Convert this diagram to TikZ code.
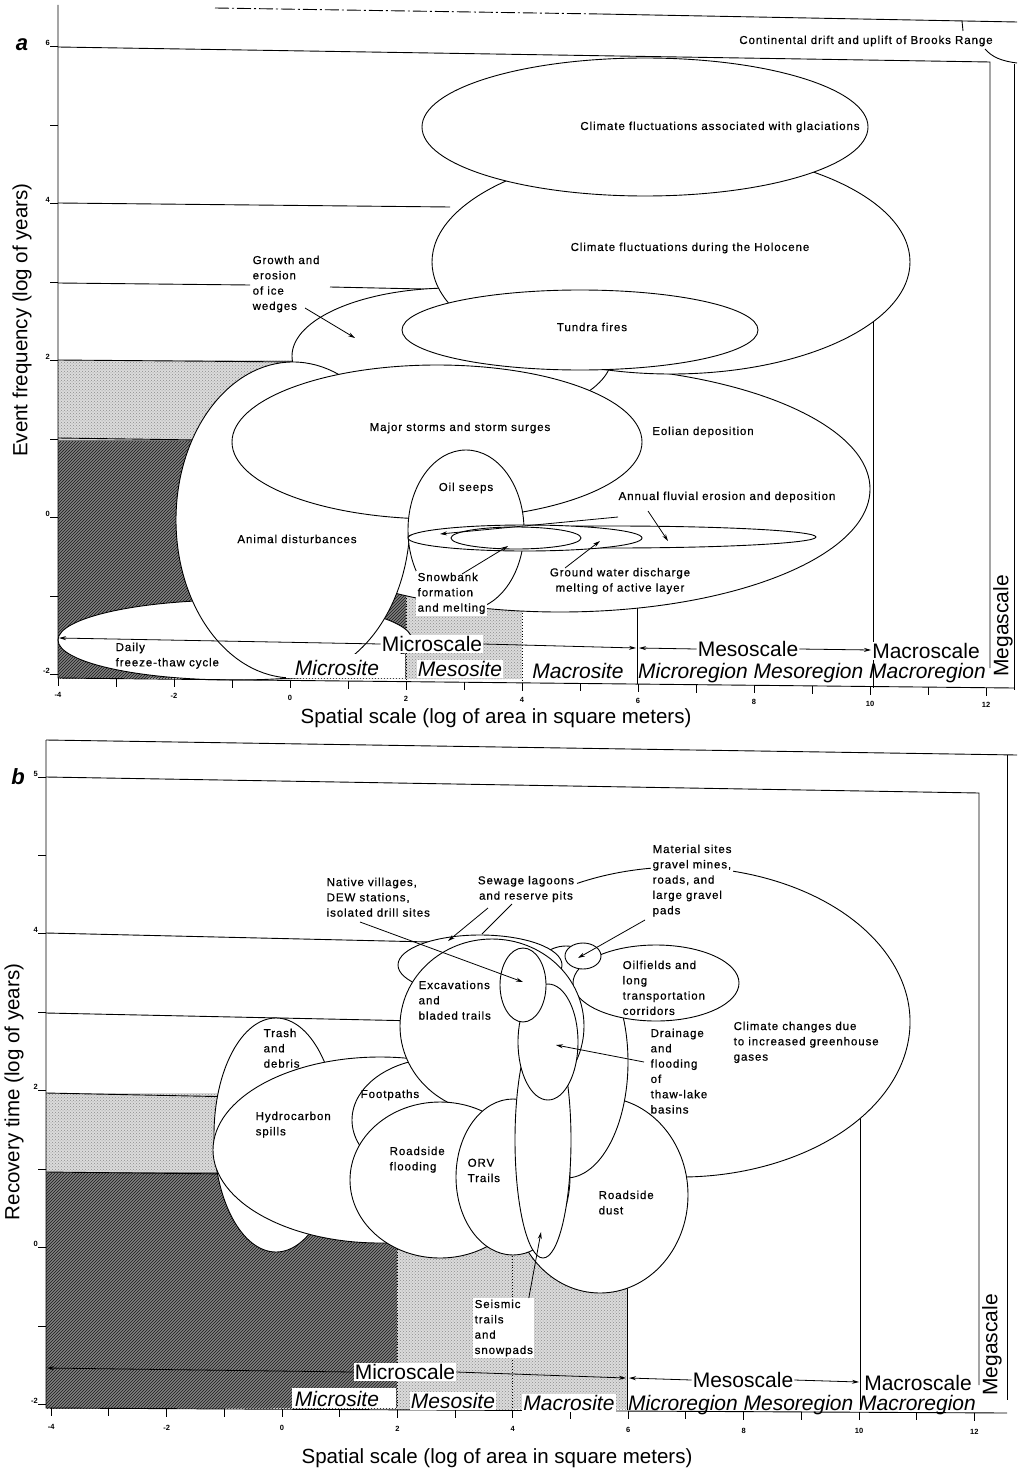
\documentclass[tikz,border=0pt]{standalone}
\usepackage{fontspec}
\setmainfont{Liberation Sans}
\newfontfamily\lspfam[LetterSpace=8,FakeBold=0.6]{Liberation Sans}
\usetikzlibrary{patterns,arrows.meta}
\newcommand\lbfnt{\lspfam\fontsize{11.5}{15.3}\selectfont}
\newcommand\bgfnt{\fontsize{21}{23}\selectfont}
\newcommand\stfnt{\fontsize{21}{23}\selectfont\itshape}
\newcommand\tkfnt{\fontsize{7.5}{8}\selectfont\bfseries}
\newcommand\axfnt{\fontsize{20.5}{22}\selectfont}
\begin{document}
\begin{tikzpicture}[x=1pt,y=-1pt,
  ell/.style={draw,line width=0.9pt,fill=white},
  rl/.style={line width=0.9pt},
  lab/.style={font=\lbfnt,inner sep=0.5pt,align=left},
  labw/.style={lab,fill=white,inner sep=1.5pt},
  scl/.style={font=\bgfnt,inner sep=1pt,fill=white},
  site/.style={font=\stfnt,inner sep=1pt,fill=white},
  tk/.style={font=\tkfnt,inner sep=0pt},
  axl/.style={font=\axfnt,inner sep=0pt},
  plab/.style={font=\fontsize{22}{24}\selectfont\itshape\bfseries,inner sep=0pt},
  arr/.style={-{Stealth[length=7pt,width=4pt]},line width=0.8pt},
  darkfill/.style={fill=black!50,postaction={pattern=north east lines,pattern color=black!90}},
  lightfill/.style={fill=black!14,postaction={pattern=crosshatch dots,pattern color=black!45}},
]
\path[use as bounding box,fill=white] (0,0) rectangle (1017,1474);

%%%%%%%%%%%%%%%%%%%%%%%% PANEL A %%%%%%%%%%%%%%%%%%%%%%%%
% shading
\path[darkfill] (58,440) rectangle (406,678);
\path[lightfill] (58,360) rectangle (300,440);
\path[lightfill] (406,560) rectangle (522,679);
% range lines
\draw[rl,dash pattern=on 14pt off 3pt on 2pt off 3pt] (215,8) -- (600,14);
\draw[rl] (600,14) -- (1017,22);
\draw[rl] (962,21) -- (963,31);
\draw[rl] (985,49) .. controls (992,57) and (1001,61) .. (1017,63);
\draw[rl] (58,47) -- (990,62) -- (990,668);
\draw[rl] (1014,64) -- (1014,690);
\draw[rl] (58,203) -- (450,207);
\draw[rl] (873,300) -- (873,688);
\draw[rl] (58,283) -- (250,285);
\draw[rl] (330,287) -- (470,290);
\draw[rl] (58,360) -- (300,362);
\draw[rl] (58,438) -- (200,440);
\draw[rl] (637,590) -- (637,684);
\draw[line width=0.9pt,dotted] (406,560) -- (406,680);
\draw[line width=0.9pt,dotted] (522,590) -- (522,682);
% ellipses (back to front)
\draw[ell] (235,640) ellipse[x radius=177,y radius=40];
\draw[ell] (560,489) ellipse[x radius=310,y radius=123];
\draw[ell] (452,356) ellipse[x radius=160,y radius=68];
\draw[ell] (293,520) ellipse[x radius=117,y radius=158];
\draw[ell] (671,262) ellipse[x radius=239,y radius=112];
\draw[ell] (580,330) ellipse[x radius=178,y radius=40];
\draw[ell] (645,127) ellipse[x radius=223,y radius=69];
\draw[ell] (437,442) ellipse[x radius=205,y radius=77];
\draw[ell] (466,530) ellipse[x radius=58,y radius=80];
\draw[ell] (612,537) ellipse[x radius=204,y radius=11];
\draw[ell] (525,538) ellipse[x radius=117,y radius=13];
\draw[ell] (516,538) ellipse[x radius=65,y radius=11];
\fill[white] (286,654) rectangle (405,678);
% axes
\draw[rl] (58,5) -- (58,678) -- (1014,688);
\foreach \yy in {46,125,203,282,360,439,517,596,674} \draw[rl] (50,\yy) -- (58,\yy);
\foreach \v/\yy [count=\i] in {6/46,4/203,2/360,0/517,-2/674}
  \node[tk,anchor=east] (yta\i) at (50,\yy-3) {\v};
\foreach \v in {-4,...,12} {
  \pgfmathsetmacro\xx{58+58*(\v+4)}
  \pgfmathsetmacro\ay{678+(\xx-58)*0.0105}
  \draw[rl] (\xx,\ay) -- (\xx,\ay+8);
}
\foreach \v [count=\i] in {-4,-2,...,12} {
  \pgfmathsetmacro\xx{58+58*(\v+4)}
  \pgfmathsetmacro\ay{678+(\xx-58)*0.0105}
  \node[tk] (xta\i) at (\xx,\ay+17) {\v};
}
% labels
\node[plab] (pa) at (22,45) {a};
\node[lab] (cont) at (866,41) {Continental drift and uplift of Brooks Range};
\node[lab] (glac) at (720,127) {Climate fluctuations associated with glaciations};
\node[lab] (holo) at (690,248) {Climate fluctuations during the Holocene};
\node[lab] (tund) at (592,327) {Tundra fires};
\node[lab,anchor=north west] (grow) at (252,255) {Growth and\\erosion\\of ice\\wedges};
\node[lab] (storm) at (460,428) {Major storms and storm surges};
\node[lab] (eol) at (703,432) {Eolian deposition};
\node[lab] (oil) at (466,488) {Oil seeps};
\node[lab] (ann) at (727,497) {Annual fluvial erosion and deposition};
\node[lab] (anim) at (297,539) {Animal disturbances};
\node[labw,anchor=north west] (snow) at (416,571) {Snowbank\\formation\\and melting};
\node[lab,align=center] (gw) at (620,581) {Ground water discharge\\melting of active layer};
\node[lab,anchor=north west] (daily) at (115,642) {Daily\\freeze-thaw cycle};
% arrows
\coordinate (growT) at (355,338);
\draw[arr] (305,308) -- (growT);
\coordinate (snowS) at (462,574);
\coordinate (snowT) at (508,546);
\draw[arr] (snowS) -- (snowT);
\coordinate (gwS) at (565,568);
\coordinate (gwT) at (600,541);
\draw[arr] (gwS) -- (gwT);
\coordinate (annS) at (648,511);
\coordinate (annT) at (668,541);
\draw[arr] (annS) -- (annT);
\coordinate (lfS) at (618,517);
\coordinate (lfT) at (440,534);
\draw[arr] (lfS) -- (lfT);
% scale labels
\node[scl] (micA) at (432,644) {Microscale};
\node[scl] (mesA) at (748,649) {Mesoscale};
\node[scl] (macA) at (926,651) {Macroscale};
\coordinate (aL) at (59,638);
\coordinate (a6r) at (636,648);
\coordinate (a6l) at (639,648);
\coordinate (a10) at (871,650);
\draw[arr] (micA.west) -- (aL);
\draw[arr] (micA.east) -- (a6r);
\draw[arr] (mesA.west) -- (a6l);
\draw[arr] (mesA.east) -- (a10);
\node[site] (msA) at (337,668) {Microsite};
\node[site] (meA) at (460,669) {Mesosite};
\node[site] (maA) at (578,671) {Macrosite};
\node[font=\stfnt,inner sep=0pt] (rgA) at (812,673) {Microregion Mesoregion Macroregion};
\node[font=\bgfnt,rotate=90,inner sep=0pt] (mgA) at (1003,626) {Megascale};
\node[axl] (xlA) at (496,718) {Spatial scale (log of area in square meters)};
\node[axl,rotate=90] (ylA) at (22,320) {Event frequency (log of years)};

%%%%%%%%%%%%%%%%%%%%%%%% PANEL B %%%%%%%%%%%%%%%%%%%%%%%%
\path[darkfill] (46,1172) rectangle (397,1408);
\path[lightfill] (46,1093) rectangle (260,1172);
\path[lightfill] (397,1200) rectangle (627,1409);
% range lines
\draw[rl] (46,740) -- (1017,755);
\draw[rl] (1007,755) -- (1007,1400);
\draw[rl] (46,777) -- (979,793) -- (979,1385);
\draw[rl] (46,933) -- (430,942);
\draw[rl] (46,1013) -- (420,1021);
\draw[rl] (46,1093) -- (240,1097);
\draw[rl] (46,1172) -- (230,1174);
\draw[rl] (860,1100) -- (860,1410);
\draw[rl] (627,1250) -- (627,1410);
\draw[line width=0.9pt,dotted] (397,1240) -- (397,1408);
\draw[line width=0.9pt,dotted] (512,1250) -- (512,1409);
% ellipses
\fill[white] (680,1022) ellipse[x radius=230,y radius=155];
\draw[rl] (680,1022) ++(-116.6:230 and 155) arc[start angle=-116.6,end angle=200,x radius=230,y radius=155];
\draw[ell] (600,1195) ellipse[x radius=88,y radius=98];
\draw[ell] (566,1062) ellipse[x radius=62,y radius=116];
\draw[ell] (656,983) ellipse[x radius=83,y radius=38];
\draw[ell] (276,1135) ellipse[x radius=62,y radius=117];
\draw[ell] (380,1150) ellipse[x radius=167,y radius=93];
\draw[ell] (440,1120) ellipse[x radius=88,y radius=62];
\draw[ell] (480,965) ellipse[x radius=82,y radius=30];
\draw[ell] (492,1026) ellipse[x radius=92,y radius=87];
\draw[ell] (440,1180) ellipse[x radius=90,y radius=78];
\draw[ell] (513,1177) ellipse[x radius=57,y radius=78];
\draw[ell] (543,1140) ellipse[x radius=28,y radius=118];
\draw[ell] (548,1042) ellipse[x radius=30,y radius=58];
\draw[ell] (523,985) ellipse[x radius=23,y radius=37];
\draw[ell] (583,956) ellipse[x radius=18,y radius=13];
% axes
\draw[rl] (46,740) -- (46,1408) -- (1007,1413);
\foreach \yy in {777,855,933,1012,1090,1169,1247,1326,1404} \draw[rl] (38,\yy) -- (46,\yy);
\foreach \v/\yy [count=\i] in {5/777,4/933,2/1090,0/1247,-2/1404}
  \node[tk,anchor=east] (ytb\i) at (38,\yy-3) {\v};
\foreach \v in {-4,...,12} {
  \pgfmathsetmacro\xx{282+57.7*\v}
  \pgfmathsetmacro\ay{1408+(\xx-46)*0.005}
  \draw[rl] (\xx,\ay) -- (\xx,\ay+8);
}
\foreach \v [count=\i] in {-4,-2,...,12} {
  \pgfmathsetmacro\xx{282+57.7*\v}
  \pgfmathsetmacro\ay{1408+(\xx-46)*0.005}
  \node[tk] (xtb\i) at (\xx,\ay+19) {\v};
}
% labels
\node[plab] (pb) at (18,777) {b};
\node[lab,anchor=north west] (nat) at (326,877) {Native villages,\\DEW stations,\\isolated drill sites};
\node[labw,align=center] (sew) at (526,889) {Sewage lagoons\\and reserve pits};
\node[labw,anchor=north west] (mat) at (651,843) {Material sites\\gravel mines,\\roads, and\\large gravel\\pads};
\node[lab,anchor=north west] (exc) at (418,980) {Excavations\\and\\bladed trails};
\node[lab,anchor=north west] (oilf) at (622,960) {Oilfields and\\long\\transportation\\corridors};
\node[lab,anchor=north west] (drn) at (650,1028) {Drainage\\and\\flooding\\of\\thaw-lake\\basins};
\node[lab,anchor=north west] (clim) at (733,1021) {Climate changes due\\to increased greenhouse\\gases};
\node[lab,anchor=north west] (trash) at (263,1028) {Trash\\and\\debris};
\node[lab,anchor=north west] (hyd) at (255,1111) {Hydrocarbon\\spills};
\node[lab,anchor=west] (foot) at (360,1095) {Footpaths};
\node[lab,anchor=north west] (rfl) at (389,1146) {Roadside\\flooding};
\node[lab,anchor=north west] (orv) at (467,1158) {ORV\\Trails};
\node[lab,anchor=north west] (rdust) at (598,1190) {Roadside\\dust};
\node[labw,anchor=north west] (seis) at (473,1298) {Seismic\\trails\\and\\snowpads};
% arrows
\coordinate (natS) at (360,922);
\coordinate (natT) at (523,982);
\draw[arr] (natS) -- (natT);
\coordinate (sewS) at (488,908);
\coordinate (sewT) at (448,941);
\draw[arr] (sewS) -- (sewT);
\coordinate (sewS2) at (512,904);
\coordinate (sewT2) at (482,934);
\draw[rl] (sewS2) -- (sewT2);
\coordinate (matS) at (645,920);
\coordinate (matT) at (578,958);
\draw[arr] (matS) -- (matT);
\coordinate (drnS) at (644,1062);
\coordinate (drnT) at (556,1045);
\draw[arr] (drnS) -- (drnT);
\coordinate (seiT) at (541,1232);
\draw[arr] (seis.north) ++(25,0) -- (seiT);
% scale labels
\fill[white] (292,1388) rectangle (396,1408);
\node[scl] (micB) at (405,1372) {Microscale};
\node[scl] (mesB) at (743,1380) {Mesoscale};
\node[scl] (macB) at (918,1383) {Macroscale};
\coordinate (bL) at (47,1368);
\coordinate (b6r) at (626,1378);
\coordinate (b6l) at (629,1378);
\coordinate (b10) at (859,1382);
\draw[arr] (micB.west) -- (bL);
\draw[arr] (micB.east) -- (b6r);
\draw[arr] (mesB.west) -- (b6l);
\draw[arr] (mesB.east) -- (b10);
\node[site] (msB) at (337,1399) {Microsite};
\node[site] (meB) at (453,1401) {Mesosite};
\node[site] (maB) at (569,1403) {Macrosite};
\node[font=\stfnt,inner sep=0pt] (rgB) at (802,1405) {Microregion Mesoregion Macroregion};
\node[font=\bgfnt,rotate=90,inner sep=0pt] (mgB) at (992,1345) {Megascale};
\node[axl] (xlB) at (497,1458) {Spatial scale (log of area in square meters)};
\node[axl,rotate=90] (ylB) at (14,1092) {Recovery time (log of years)};
\end{tikzpicture}
\end{document}
